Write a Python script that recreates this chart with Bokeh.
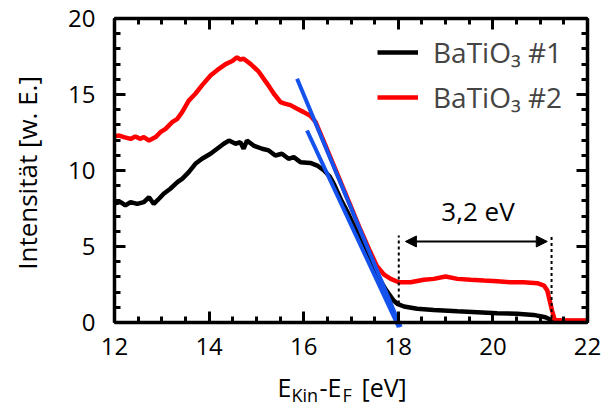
from math import pi
from bokeh.plotting import figure
from bokeh.models import (Range1d, LinearAxis, SingleIntervalTicker, Label, Arrow,
                          NormalHead, Legend, LegendItem, PrintfTickFormatter)
from bokeh.embed import file_html
from bokeh.resources import INLINE

# ---------------- data ----------------
x_black = [12.00, 12.13, 12.23, 12.34, 12.48, 12.62, 12.73, 12.83, 12.94, 13.04,
           13.18, 13.33, 13.43, 13.57, 13.71, 13.85, 14.03, 14.17, 14.31, 14.42,
           14.56, 14.66, 14.73, 14.80, 14.94, 15.12, 15.26, 15.40, 15.54, 15.68,
           15.79, 15.93, 16.14, 16.30, 16.43, 16.55, 16.64, 16.80, 16.92, 17.10,
           17.27, 17.45, 17.62, 17.75, 17.90, 17.98, 18.12, 18.40, 18.75, 19.25,
           19.67, 20.09, 20.51, 20.86, 21.11, 21.22, 21.30, 22.00]
y_black = [7.85, 7.92, 7.70, 7.92, 7.80, 7.92, 8.24, 7.80, 8.14, 8.47,
           8.80, 9.23, 9.45, 9.89, 10.44, 10.77, 11.10, 11.43, 11.76, 11.97,
           11.76, 11.86, 11.43, 11.97, 11.64, 11.43, 11.32, 10.99, 11.10, 10.77,
           10.88, 10.55, 10.50, 10.30, 10.00, 9.60, 9.10, 8.00, 7.30, 6.10,
           4.95, 3.80, 2.76, 2.10, 1.45, 1.23, 1.05, 0.90, 0.83, 0.74,
           0.68, 0.61, 0.57, 0.50, 0.35, 0.18, 0.10, 0.10]

x_red = [12.00, 12.10, 12.20, 12.34, 12.44, 12.55, 12.62, 12.73, 12.87, 12.97,
         13.08, 13.22, 13.33, 13.43, 13.57, 13.71, 13.85, 14.03, 14.17, 14.35,
         14.49, 14.59, 14.66, 14.73, 14.88, 15.05, 15.23, 15.37, 15.51, 15.60,
         15.72, 15.86, 16.00, 16.14, 16.25, 16.40, 16.60, 16.80, 17.00, 17.20,
         17.40, 17.55, 17.70, 17.84, 18.01, 18.26, 18.54, 18.75, 19.00, 19.25,
         19.53, 19.81, 20.09, 20.37, 20.65, 20.94, 21.08, 21.15, 21.20, 21.25,
         21.30, 21.43, 22.00]
y_red = [12.25, 12.30, 12.20, 12.08, 12.24, 12.08, 12.20, 11.97, 12.20, 12.52,
         12.74, 13.18, 13.40, 13.84, 14.60, 15.05, 15.60, 16.25, 16.60, 17.00,
         17.20, 17.45, 17.30, 17.35, 17.00, 16.50, 15.70, 15.05, 14.50, 14.40,
         14.30, 14.06, 13.84, 13.60, 13.20, 12.10, 10.60, 9.10, 7.60, 6.10,
         4.70, 3.70, 3.15, 2.87, 2.65, 2.65, 2.81, 2.87, 3.03, 2.87,
         2.81, 2.76, 2.72, 2.65, 2.65, 2.59, 2.43, 2.10, 1.45, 0.79,
         0.24, 0.13, 0.13]

series_labels = ["BaTiO\u2083 #1", "BaTiO\u2083 #2"]

# linear fits of the leading edges (start / end points)
fit_x0 = [15.86, 16.07]
fit_y0 = [16.03, 12.63]
fit_x1 = [18.05, 18.01]
fit_y1 = [-0.30, -0.30]

# band gap markers
gap_x = [18.01, 21.24]
gap_bottom = [1.25, 0.30]
gap_top = [5.72, 5.72]
arrow_x = [18.15, 21.15]
arrow_y = 5.33
gap_text = "3,2 eV"
gap_text_pos = (19.685, 7.32)

x_limits = (12, 22)
y_limits = (0, 20)
x_ticks_interval = 2
y_ticks_interval = 5

y_title = "Intensität [w. E.]"
# x title pieces: (text, is_subscript)
x_title_parts = [("E", False), ("Kin", True), ("-E", False), ("F", True), ("[eV]", False)]
x_title_pos = [15.446, 15.742, 16.334, 16.82, 17.222]

FONT = "Open Sans"

# ---------------- figure ----------------
# The frame fills the whole canvas; the axes are pinned at the data limits,
# so that titles drawn outside the data area are not clipped.
PX_PER_X = 47.3
PX_PER_Y = 15.2
X0_PX, Y0_PX = 114, 322
W, H = 603, 407
xr = Range1d(x_limits[0] - X0_PX / PX_PER_X, x_limits[0] + (W - X0_PX) / PX_PER_X)
yr = Range1d(y_limits[0] - (H - Y0_PX) / PX_PER_Y, y_limits[0] + Y0_PX / PX_PER_Y)

p = figure(width=W, height=H, output_backend="svg", toolbar_location=None,
           x_range=xr, y_range=yr, x_axis_type=None, y_axis_type=None,
           min_border=0, min_border_left=0, min_border_right=0,
           min_border_top=0, min_border_bottom=0)
p.outline_line_color = None
p.background_fill_color = "white"
p.border_fill_color = "white"


def style_axis(ax, labels, standoff=0, size="24px"):
    ax.axis_line_width = 3.5
    ax.axis_line_color = "black"
    ax.major_tick_line_width = 3
    ax.minor_tick_line_width = 3
    ax.major_tick_in = 11
    ax.major_tick_out = 0
    ax.minor_tick_in = 6
    ax.minor_tick_out = 0
    if labels:
        ax.major_label_text_font = FONT
        ax.major_label_text_font_size = size
        ax.major_label_text_color = "black"
        ax.major_label_standoff = standoff
    else:
        ax.formatter = PrintfTickFormatter(format="")
        ax.major_label_standoff = 0


xb = LinearAxis(ticker=SingleIntervalTicker(interval=x_ticks_interval, num_minor_ticks=4),
                fixed_location=y_limits[0], bounds=x_limits)
style_axis(xb, True, 15)
p.add_layout(xb, "below")
xt = LinearAxis(ticker=SingleIntervalTicker(interval=x_ticks_interval, num_minor_ticks=4),
                fixed_location=y_limits[1], bounds=x_limits)
style_axis(xt, False)
p.add_layout(xt, "above")
yl = LinearAxis(ticker=SingleIntervalTicker(interval=y_ticks_interval, num_minor_ticks=5),
                fixed_location=x_limits[0], bounds=y_limits)
style_axis(yl, True, 19)
p.add_layout(yl, "left")
yrx = LinearAxis(ticker=SingleIntervalTicker(interval=y_ticks_interval, num_minor_ticks=5),
                 fixed_location=x_limits[1], bounds=y_limits)
style_axis(yrx, False)
p.add_layout(yrx, "right")

# curves
r_black = p.line(x_black, y_black, line_color="black", line_width=4.5)
r_red = p.line(x_red, y_red, line_color="#ff0000", line_width=4.5)

# fit lines
p.segment(x0=fit_x0, y0=fit_y0, x1=fit_x1, y1=fit_y1, line_color="#1452ee", line_width=4)

# gap markers
p.segment(x0=gap_x, y0=gap_bottom, x1=gap_x, y1=gap_top, line_color="black",
          line_width=2, line_dash="3 3")
p.add_layout(Arrow(x_start=arrow_x[0], y_start=arrow_y, x_end=arrow_x[1], y_end=arrow_y,
                   line_width=2, line_color="black",
                   start=NormalHead(size=11, fill_color="black", line_color="black"),
                   end=NormalHead(size=11, fill_color="black", line_color="black")))
p.add_layout(Label(x=gap_text_pos[0], y=gap_text_pos[1], text=gap_text, text_font=FONT,
                   text_font_size="26px", text_align="center", text_baseline="alphabetic",
                   text_color="black"))

# legend
legend = Legend(items=[LegendItem(label=series_labels[0], renderers=[r_black]),
                       LegendItem(label=series_labels[1], renderers=[r_red])],
                location=(377, 291), label_text_font=FONT, label_text_font_size="28px",
                glyph_width=41, glyph_height=36, label_height=36, label_standoff=15,
                spacing=7, padding=0, margin=0, border_line_color=None,
                background_fill_alpha=0)
p.add_layout(legend)

# axis titles
p.add_layout(Label(x=10.14, y=9.84, text=y_title, text_font=FONT,
                   text_font_size="26px", angle=pi / 2, text_align="center",
                   text_baseline="middle", text_color="black"))
xlab_y = -4.276
xlab_sub_y = -4.755
for (txt, sub), xx in zip(x_title_parts, x_title_pos):
    p.add_layout(Label(x=xx, y=xlab_sub_y if sub else xlab_y, text=txt, text_font=FONT,
                       text_font_size="18px" if sub else "25px",
                       text_align="left", text_baseline="alphabetic", text_color="black"))

open("out.html", "w").write(file_html(p, INLINE))
